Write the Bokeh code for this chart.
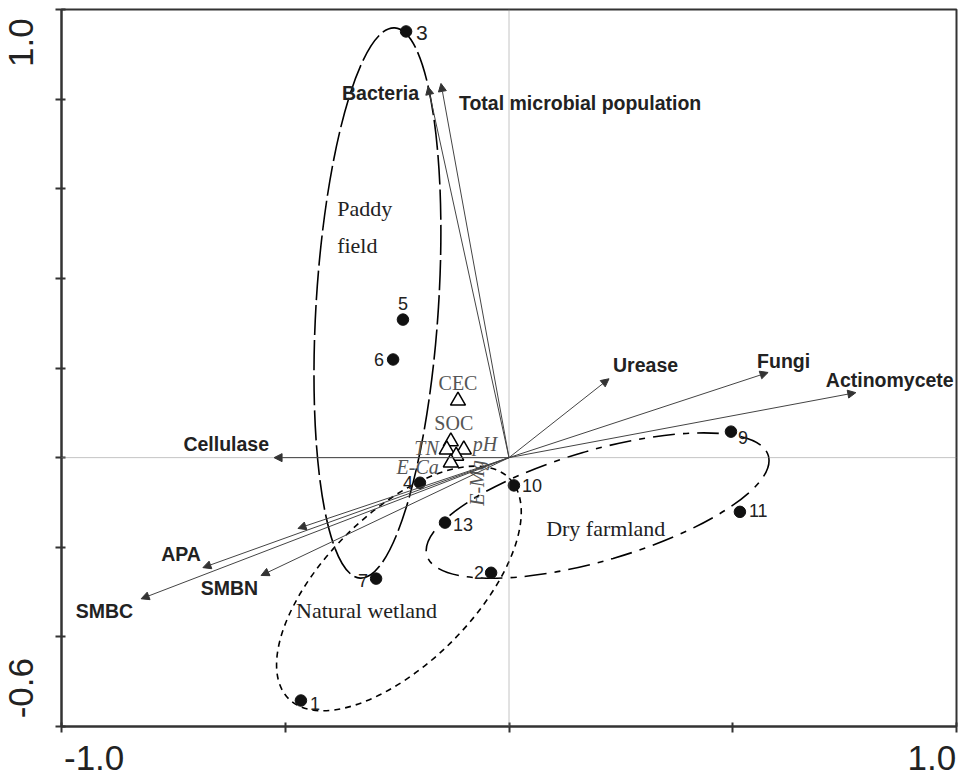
import math
from bokeh.plotting import figure
from bokeh.models import (Range1d, Arrow, NormalHead, FixedTicker, LinearAxis,
                          ColumnDataSource, Span, PrintfTickFormatter)
from bokeh.core.properties import value
from bokeh.embed import file_html
from bokeh.resources import INLINE

# ---------------- data ----------------
# sample scores
site_ids = ["1", "2", "3", "4", "5", "6", "7", "9", "10", "11", "13"]
site_x = [-0.465, -0.040, -0.230, -0.199, -0.237, -0.259, -0.297, 0.496, 0.011, 0.516, -0.143]
site_y = [-0.542, -0.257, 0.951, -0.056, 0.308, 0.219, -0.270, 0.058, -0.062, -0.121, -0.145]

# environmental variables (triangles)
env_names = ["CEC", "SOC", "TN", "pH", "E-Mg", "E-Ca"]
env_x = [-0.114, -0.130, -0.139, -0.101, -0.118, -0.130]
env_y = [0.127, 0.036, 0.018, 0.018, 0.004, -0.011]

# response variables (arrows from origin)
var_names = ["Bacteria", "Total microbial population", "Urease", "Fungi",
             "Actinomycete", "Cellulase", "APA", "SMBN", "SMBC", ""]
var_x = [-0.181, -0.152, 0.2235, 0.579, 0.775, -0.525, -0.684, -0.554, -0.822, -0.4715]
var_y = [0.828, 0.835, 0.176, 0.190, 0.145, 0.0, -0.2455, -0.263, -0.315, -0.158]

# land-use groups (envelopes)
group_names = ["Paddy\nfield", "Natural wetland", "Dry farmland"]
group_cx = [-0.294, -0.246, 0.198]
group_cy = [0.345, -0.292, -0.107]
group_major = [1.232, 0.697, 0.795]
group_minor = [0.273, 0.335, 0.246]
group_angle = [86.4, 45.0, 16.3]
group_label_x = [-0.384, -0.476, 0.083]
group_label_y = [0.5145, -0.342, -0.158]

# axes
x_ticks = [-1.0, -0.5, 0.0, 0.5, 1.0]
y_ticks = [-0.6, -0.4, -0.2, 0.0, 0.2, 0.4, 0.6, 0.8, 1.0]
x_tick_labels = ["-1.0", "1.0"]
y_tick_labels = ["-0.6", "1.0"]

# ---------------- styles ----------------
SANS_NAME = "Liberation Sans"
SANS = value(SANS_NAME)
SERIF = value("Liberation Serif")
site_style = {  # align, dx, dy (px, dy positive = down)
    "1": ("left", 9, 3), "2": ("right", -7, 0), "3": ("left", 10, 2),
    "4": ("right", -7, 0), "5": ("center", 0, -16), "6": ("right", -9, 0),
    "7": ("right", -8, 2), "9": ("left", 7, 6), "10": ("left", 8, 0),
    "11": ("left", 9, -1), "13": ("left", 8, 2),
}
site_font = {"3": "21px"}
var_style = {
    "Bacteria": ("right", -9, 6), "Total microbial population": ("left", 18, 20),
    "Urease": ("left", 4, -14), "Fungi": ("left", -11, -11),
    "Actinomycete": ("left", -30, -13), "Cellulase": ("right", -5, -14),
    "APA": ("right", -2, -14), "SMBN": ("right", -3, 13), "SMBC": ("right", -8, 12),
}
env_style = {  # align, dx, dy, italic, angle
    "CEC": ("center", 0, -18, "normal", 0.0), "SOC": ("center", 3, -18, "normal", 0.0),
    "TN": ("right", -8, -2, "italic", 0.0), "pH": ("left", 9, -6, "italic", 0.0),
    "E-Mg": ("left", 21, 50, "italic", math.pi / 2), "E-Ca": ("right", -12, 4, "italic", 0.0),
}
group_dash = ["30 5", "6 5", "22 8 6 8"]
# where (in plot coordinates) the centres of the two end tick labels sit
x_label_centres = [-0.927, 0.945]
y_label_centres = [-0.5145, 0.926]
AX_COL = "#333333"

W, H = 958, 776
X0, X1 = x_ticks[0], x_ticks[-1]
Y0, Y1 = y_ticks[0], y_ticks[-1]
p = figure(width=W, height=H, output_backend="svg", toolbar_location=None,
           x_range=Range1d(X0, X1), y_range=Range1d(Y0, Y1),
           x_axis_location=None, y_axis_location=None,
           min_border_left=61, min_border_right=2, min_border_top=9, min_border_bottom=50,
           background_fill_color="white", border_fill_color="white")
p.grid.visible = False
p.outline_line_color = AX_COL
p.outline_line_width = 2


def label_range(ticks, centres):
    """Range in which the end tick labels land on `centres`; returns range and
    positions of the real ticks expressed in that range."""
    m = (centres[1] - centres[0]) / (ticks[-1] - ticks[0])
    c = centres[0] - m * ticks[0]
    rng = Range1d((ticks[0] - c) / m, (ticks[-1] - c) / m)
    return rng, [(t - c) / m for t in ticks]


xr, x_minor = label_range(x_ticks, x_label_centres)
yr, y_minor = label_range(y_ticks, y_label_centres)
p.extra_x_ranges = {"xlab": xr}
p.extra_y_ranges = {"ylab": yr}

common = dict(axis_line_color=AX_COL, axis_line_width=2,
              major_tick_line_color=None, major_tick_out=6, major_tick_in=0,
              minor_tick_line_color=AX_COL, minor_tick_line_width=2,
              minor_tick_in=4, minor_tick_out=6,
              formatter=PrintfTickFormatter(format="%.1f"),
              major_label_text_font=SANS_NAME, major_label_text_font_size="35px",
              major_label_text_color="#222222")
xaxis = LinearAxis(x_range_name="xlab",
                   ticker=FixedTicker(ticks=[X0, X1], minor_ticks=x_minor),
                   major_label_overrides=dict(zip([X0, X1], x_tick_labels)),
                   major_label_standoff=13, **common)
yaxis = LinearAxis(y_range_name="ylab",
                   ticker=FixedTicker(ticks=[Y0, Y1], minor_ticks=y_minor),
                   major_label_overrides=dict(zip([Y0, Y1], y_tick_labels)),
                   major_label_orientation="vertical", major_label_standoff=22, **common)
p.add_layout(xaxis, "below")
p.add_layout(yaxis, "left")

# dotted axes through origin
p.add_layout(Span(location=0, dimension="width", line_color="#888888",
                  line_width=1, line_dash="1 1"))
p.add_layout(Span(location=0, dimension="height", line_color="#888888",
                  line_width=1, line_dash="1 1"))

# group envelopes
for i in range(len(group_names)):
    p.ellipse(x=group_cx[i], y=group_cy[i], width=group_major[i], height=group_minor[i],
              angle=group_angle[i], angle_units="deg", fill_color=None,
              line_color="black", line_width=1.6, line_dash=group_dash[i])
p.text(x=group_label_x, y=group_label_y, text=group_names, text_font=SERIF,
       text_font_size="22px", text_color="#222222", text_align="left",
       text_baseline="middle", text_line_height=1.5)

# arrows
arr_src = ColumnDataSource(dict(x0=[0.0] * len(var_x), y0=[0.0] * len(var_y),
                                x1=var_x, y1=var_y))
p.add_layout(Arrow(source=arr_src, x_start="x0", y_start="y0", x_end="x1", y_end="y1",
                   line_color="#444444", line_width=1,
                   end=NormalHead(size=8, fill_color="#333333", line_color="#333333",
                                  line_width=1)))
vl = [i for i, n in enumerate(var_names) if n]
p.text(x=[var_x[i] for i in vl], y=[var_y[i] for i in vl],
       text=[var_names[i] for i in vl],
       x_offset=[var_style[var_names[i]][1] for i in vl],
       y_offset=[var_style[var_names[i]][2] for i in vl],
       text_align=[var_style[var_names[i]][0] for i in vl],
       text_baseline="middle", text_font=SANS, text_font_style="bold",
       text_font_size="19.5px", text_color="#222222")

# environmental triangles
p.scatter(x=env_x, y=env_y, marker="triangle", size=15, fill_color="white",
          line_color="black", line_width=1.5)
p.text(x=env_x, y=env_y, text=env_names,
       x_offset=[env_style[n][1] for n in env_names],
       y_offset=[env_style[n][2] for n in env_names],
       text_align=[env_style[n][0] for n in env_names],
       text_font_style=[env_style[n][3] for n in env_names],
       angle=[env_style[n][4] for n in env_names],
       text_baseline="middle", text_font=SERIF, text_font_size="20px",
       text_color="#555555")

# sites
p.scatter(x=site_x, y=site_y, marker="circle", size=11.5, fill_color="#111111",
          line_color="#111111")
p.text(x=site_x, y=site_y, text=site_ids,
       x_offset=[site_style[s][1] for s in site_ids],
       y_offset=[site_style[s][2] for s in site_ids],
       text_align=[site_style[s][0] for s in site_ids],
       text_font_size=[site_font.get(s, "18px") for s in site_ids],
       text_baseline="middle", text_font=SANS, text_color="#222222")

open("out.html", "w").write(file_html(p, INLINE))
